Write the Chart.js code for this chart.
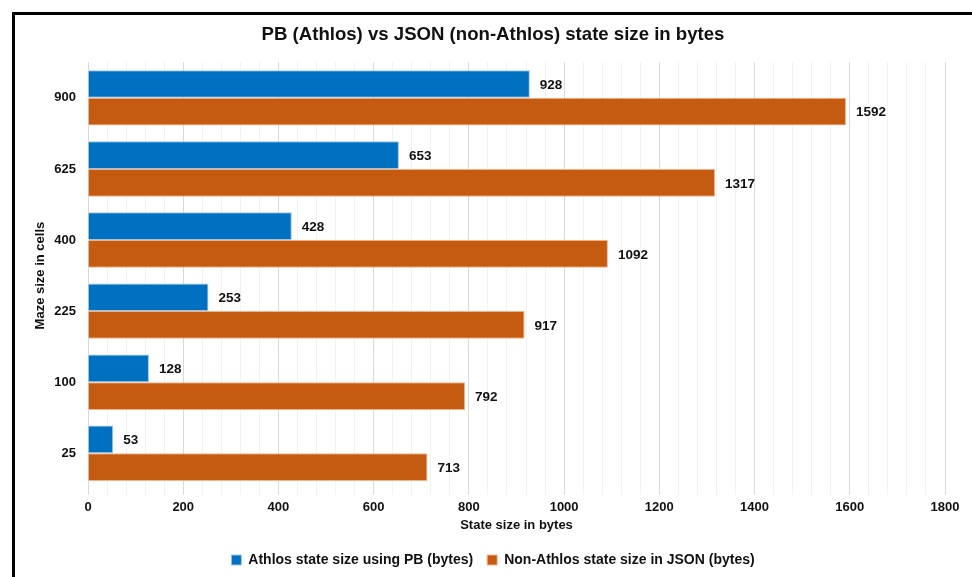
<!DOCTYPE html>
<html>
<head>
<meta charset="utf-8">
<script src="https://cdn.jsdelivr.net/npm/chart.js@4"></script>
<style>
  html, body { margin: 0; padding: 0; background: #fff; overflow: hidden; width: 972px; height: 577px; }
  #frame { position: absolute; left: 12px; top: 12px; width: 1000px; height: 600px; border: 3px solid #000; box-sizing: border-box; }
  #wrap { position: absolute; left: 0; top: 0; width: 986px; height: 577px; }
</style>
</head>
<body>
<div id="frame"></div>
<div id="wrap"><canvas id="myChart"></canvas></div>
<script>
// dados do gráfico
const mazeSizes = ['900', '625', '400', '225', '100', '25'];
const pbBytes = [928, 653, 428, 253, 128, 53];
const jsonBytes = [1592, 1317, 1092, 917, 792, 713];

const fonte = "'Liberation Sans', Arial, sans-serif";

// rótulos no fim de cada barra
const rotulos = {
    id: 'rotulos',
    afterDatasetsDraw(chart) {
        const ctx = chart.ctx;
        ctx.save();
        ctx.font = 'bold 13.5px ' + fonte;
        ctx.fillStyle = '#111';
        ctx.textBaseline = 'middle';
        chart.data.datasets.forEach(function(ds, i) {
            chart.getDatasetMeta(i).data.forEach(function(bar, j) {
                ctx.fillText(ds.data[j], bar.x + 10, bar.y + 1);
            });
        });
        ctx.restore();
    }
};

window.onload = function() {
    var ctx = document.getElementById('myChart').getContext('2d');
    new Chart(ctx, {
        type: 'bar',
        data: {
            labels: mazeSizes,
            datasets: [{
                label: 'Athlos state size using PB (bytes)',
                data: pbBytes,
                backgroundColor: '#0070C0',
                borderColor: '#9DC3E6',
                borderWidth: 1
            }, {
                label: 'Non-Athlos state size in JSON (bytes)',
                data: jsonBytes,
                backgroundColor: '#C55A11',
                borderColor: '#F4B183',
                borderWidth: 1
            }]
        },
        plugins: [rotulos],
        options: {
            indexAxis: 'y',
            responsive: true,
            maintainAspectRatio: false,
            animation: false,
            categoryPercentage: 0.78,
            barPercentage: 1,
            layout: { padding: { left: 41, right: 41, top: 16, bottom: 0 } },
            plugins: {
                title: {
                    display: true,
                    text: 'PB (Athlos) vs JSON (non-Athlos) state size in bytes',
                    color: '#111',
                    font: { family: fonte, size: 18.6, weight: 'bold' },
                    padding: { top: 8, bottom: 16 }
                },
                legend: {
                    position: 'bottom',
                    labels: {
                        color: '#111',
                        font: { family: fonte, size: 14, weight: 'bold' },
                        boxWidth: 10,
                        boxHeight: 10,
                        padding: 14
                    }
                },
                tooltip: { enabled: false }
            },
            scales: {
                x: {
                    min: 0,
                    max: 1800,
                    ticks: {
                        stepSize: 40,
                        autoSkip: false,
                        maxTicksLimit: 100,
                        maxRotation: 0,
                        padding: 5,
                        color: '#111',
                        font: { family: fonte, size: 13, weight: 'bold' },
                        callback: function(v) { return v % 200 === 0 ? v : ''; }
                    },
                    grid: {
                        color: function(c) { return c.tick && c.tick.value % 200 === 0 ? '#D9D9D9' : '#F2F2F2'; },
                        lineWidth: 1,
                        tickLength: 6
                    },
                    border: { display: false },
                    title: {
                        display: true,
                        text: 'State size in bytes',
                        color: '#111',
                        font: { family: fonte, size: 13, weight: 'bold' },
                        padding: { top: -3, bottom: 6 }
                    }
                },
                y: {
                    afterFit: function(scale) { scale.width = 47; },
                    ticks: {
                        color: '#111',
                        font: { family: fonte, size: 13, weight: 'bold' },
                        padding: 12
                    },
                    grid: { display: false, drawTicks: false },
                    border: { display: true, color: '#D9D9D9' },
                    title: {
                        display: true,
                        text: 'Maze size in cells',
                        color: '#111',
                        font: { family: fonte, size: 13, weight: 'bold' },
                        padding: { top: -8, bottom: 0 }
                    }
                }
            }
        }
    });
};
</script>
</body>
</html>
